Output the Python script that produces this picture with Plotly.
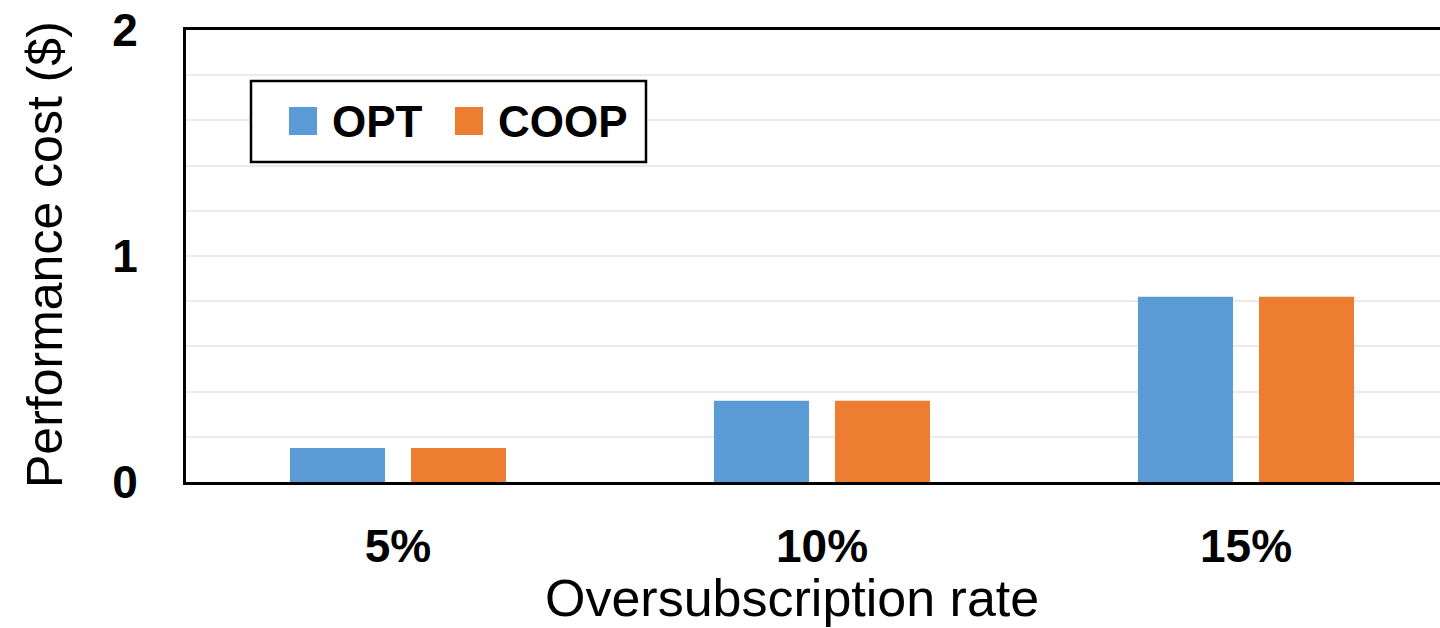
import plotly.graph_objects as go

# Performance cost per oversubscription rate
categories = ["5%", "10%", "15%"]
series_names = ["OPT", "COOP"]
opt_cost = [0.15, 0.36, 0.82]
coop_cost = [0.15, 0.36, 0.82]
series_colors = ["#5B9BD5", "#ED7D31"]
y_ticks = [0, 1, 2]

FONT = "Liberation Sans, Arial, sans-serif"

W, H = 1440, 628
ML, MR, MT, MB = 186, 0, 30, 146
PW = W - ML - MR
PH = H - MT - MB


def px_x(p):
    return (p - ML) / PW


def px_y(p):
    return (H - MB - p) / PH


fig = go.Figure()
for name, vals, col in zip(series_names, [opt_cost, coop_cost], series_colors):
    fig.add_trace(go.Bar(
        x=categories, y=vals, name=name,
        marker=dict(color=col, line=dict(width=0)),
        showlegend=False,
    ))

# Legend box drawn in paper coordinates
shapes = [dict(type="rect", xref="paper", yref="paper",
               x0=px_x(251), x1=px_x(646), y0=px_y(162), y1=px_y(81),
               line=dict(color="black", width=2.5), fillcolor="white", layer="above")]
annotations = []
swatch_x = [289, 455]
for name, col, sx in zip(series_names, series_colors, swatch_x):
    shapes.append(dict(type="rect", xref="paper", yref="paper",
                       x0=px_x(sx), x1=px_x(sx + 28), y0=px_y(135), y1=px_y(107),
                       line=dict(width=0), fillcolor=col, layer="above"))
    annotations.append(dict(text=name, xref="paper", yref="paper",
                            x=px_x(sx + 41), y=px_y(121), xanchor="left", yanchor="middle",
                            showarrow=False,
                            font=dict(family=FONT, size=44, color="black", weight="bold")))

# Axis titles
annotations.append(dict(text="Oversubscription rate", xref="paper", yref="paper",
                        x=px_x(792), y=px_y(598), xanchor="center", yanchor="middle",
                        showarrow=False, font=dict(family=FONT, size=52, color="black")))
annotations.append(dict(text="Performance cost ($)", xref="paper", yref="paper",
                        x=px_x(45), y=px_y(255), xanchor="center", yanchor="middle",
                        textangle=-90, showarrow=False,
                        font=dict(family=FONT, size=50, color="black")))

fig.update_layout(
    width=W, height=H,
    margin=dict(l=ML, r=MR, t=MT, b=MB, pad=0),
    paper_bgcolor="white", plot_bgcolor="white",
    barmode="group", bargap=0.429, bargroupgap=0.215,
    font=dict(family=FONT, color="black"),
    shapes=shapes, annotations=annotations,
)
fig.update_xaxes(
    range=[-0.5, 2.5 - 18 / 424],
    showline=True, linecolor="black", linewidth=3, mirror=True,
    showgrid=False, ticks="", ticklabelstandoff=22,
    tickfont=dict(family=FONT, size=46, color="black", weight="bold"),
)
fig.update_yaxes(
    range=[0, 2], tickvals=y_ticks,
    showline=True, linecolor="black", linewidth=3, mirror=False,
    showgrid=True, gridcolor="#ebebeb", gridwidth=1.5, zeroline=False,
    minor=dict(dtick=0.2, showgrid=True, gridcolor="#ebebeb", gridwidth=1.5),
    ticks="", ticklabelstandoff=36,
    tickfont=dict(family=FONT, size=46, color="black", weight="bold"),
)

fig.write_html("out.html")
